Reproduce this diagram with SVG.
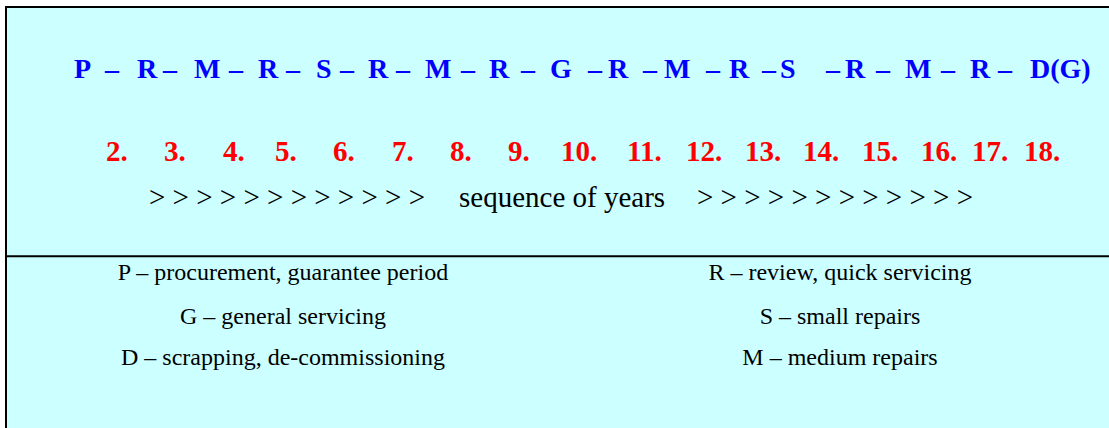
<svg xmlns="http://www.w3.org/2000/svg" width="1109" height="428" viewBox="0 0 1109 428">
<style>
.seq{font-family:"Liberation Serif","Times New Roman",serif;font-weight:bold;font-size:28px;fill:#0000FF}
.num{font-family:"Liberation Serif","Times New Roman",serif;font-weight:bold;font-size:29px;fill:#FF0000}
.yrs{font-family:"Liberation Serif","Times New Roman",serif;font-size:29px;fill:#000}
.leg{font-family:"Liberation Serif","Times New Roman",serif;font-size:24px;fill:#000;text-anchor:middle}
</style>
<rect width="1109" height="428" fill="#FFFFFF"/>
<rect x="6" y="7" width="1110" height="430" fill="#CCFFFF" stroke="#000" stroke-width="2"/>
<line x1="6" y1="256.3" x2="1109" y2="256.3" stroke="#000" stroke-width="2"/>
<g id="sequence" class="seq">
<text x="74" y="78">P</text><text x="105" y="78">–</text>
<text x="137" y="78">R</text><text x="163" y="78">–</text>
<text x="194" y="78">M</text><text x="229" y="78">–</text>
<text x="258" y="78">R</text><text x="286" y="78">–</text>
<text x="316" y="78">S</text><text x="340" y="78">–</text>
<text x="368" y="78">R</text><text x="396" y="78">–</text>
<text x="425" y="78">M</text><text x="461" y="78">–</text>
<text x="489" y="78">R</text><text x="521" y="78">–</text>
<text x="550" y="78">G</text><text x="588" y="78">–</text>
<text x="608" y="78">R</text><text x="643" y="78">–</text>
<text x="664" y="78">M</text><text x="706" y="78">–</text>
<text x="729" y="78">R</text><text x="762" y="78">–</text>
<text x="780" y="78">S</text><text x="826" y="78">–</text>
<text x="845" y="78">R</text><text x="876" y="78">–</text>
<text x="905" y="78">M</text><text x="941" y="78">–</text>
<text x="970" y="78">R</text><text x="998" y="78">–</text>
<text x="1030" y="78">D(G)</text>
</g>
<g id="years" class="num">
<text x="106" y="161">2.</text><text x="164" y="161">3.</text>
<text x="223" y="161">4.</text><text x="275" y="161">5.</text>
<text x="333" y="161">6.</text><text x="392" y="161">7.</text>
<text x="450" y="161">8.</text><text x="508" y="161">9.</text>
<text x="561" y="161">10.</text><text x="627" y="161">11.</text>
<text x="686" y="161">12.</text><text x="745" y="161">13.</text>
<text x="803" y="161">14.</text><text x="862" y="161">15.</text>
<text x="921" y="161">16.</text><text x="972" y="161">17.</text>
<text x="1024" y="161">18.</text>
</g>
<g id="sequence-label" class="yrs">
<text x="149" y="207" xml:space="preserve">&gt; &gt; &gt; &gt; &gt; &gt; &gt; &gt; &gt; &gt; &gt; &gt;</text>
<text x="459" y="207">sequence of years</text>
<text x="697" y="207" xml:space="preserve">&gt; &gt; &gt; &gt; &gt; &gt; &gt; &gt; &gt; &gt; &gt; &gt;</text>
</g>
<g id="legend" class="leg">
<text x="283" y="280">P – procurement, guarantee period</text>
<text x="283" y="324">G – general servicing</text>
<text x="283" y="365">D – scrapping, de-commissioning</text>
<text x="840" y="280">R – review, quick servicing</text>
<text x="840" y="324">S – small repairs</text>
<text x="840" y="365">M – medium repairs</text>
</g>
</svg>
